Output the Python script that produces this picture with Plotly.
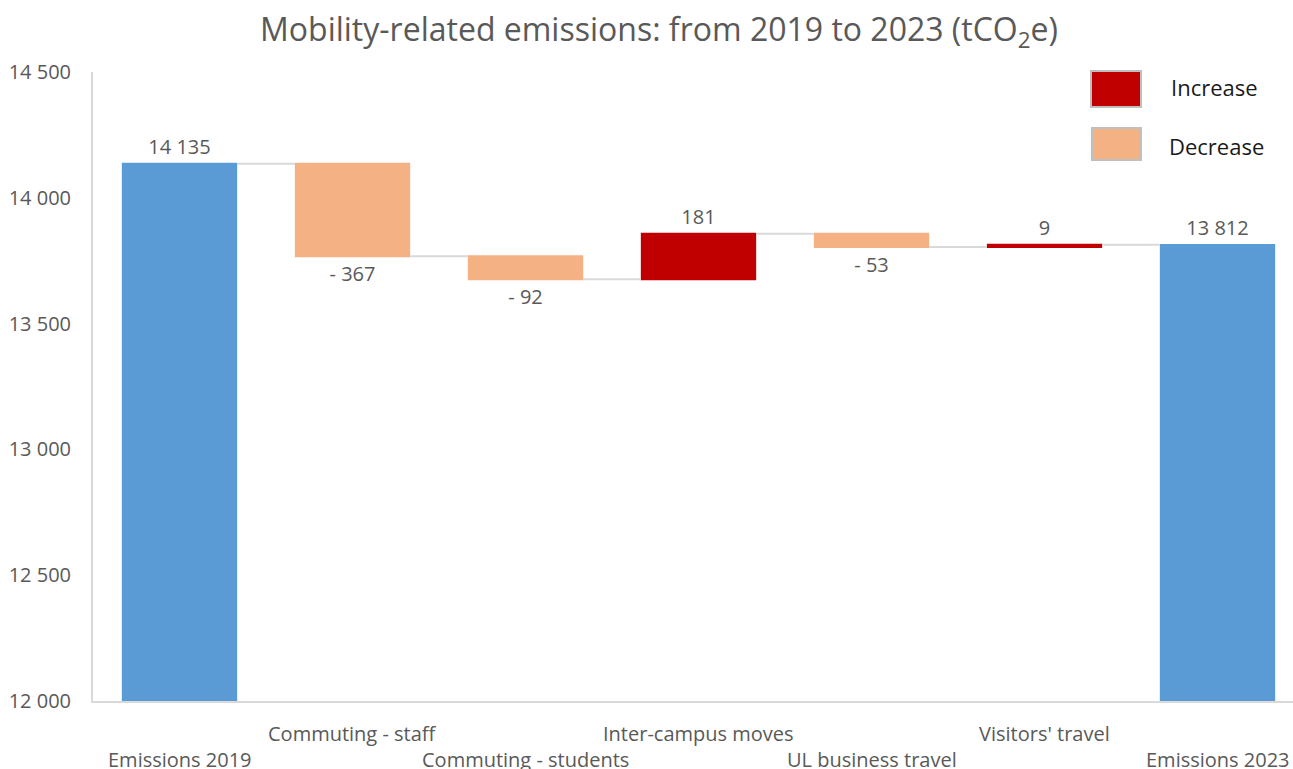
import plotly.graph_objects as go

# Mobility-related emissions, 2019 -> 2023 (tCO2e)
categories = [
    "Emissions 2019",
    "Commuting - staff",
    "Commuting - students",
    "Inter-campus moves",
    "UL business travel",
    "Visitors' travel",
    "Emissions 2023",
]
values = [14135, -367, -92, 181, -53, 9, 13812]
measures = ["absolute", "relative", "relative", "relative", "relative", "relative", "absolute"]
y_ticks = [12000, 12500, 13000, 13500, 14000, 14500]

BLUE = "#5b9bd5"
RED = "#c00000"
PEACH = "#f4b183"
TEXT = "#595959"
LINE = "#d9d9d9"
FONT = "Open Sans"

W, H = 1293, 769
L, R, T, B = 93, 0, 72, 68


def fmt(v, signed):
    s = f"{abs(v):,}".replace(",", " ")
    if signed and v < 0:
        return "- " + s
    return s


labels = [fmt(v, m == "relative") for v, m in zip(values, measures)]

fig = go.Figure(
    go.Waterfall(
        x=categories,
        y=values,
        measure=measures,
        text=labels,
        textposition="outside",
        textfont=dict(family=FONT, size=20, color=TEXT),
        increasing=dict(marker=dict(color=RED)),
        decreasing=dict(marker=dict(color=PEACH)),
        totals=dict(marker=dict(color=BLUE)),
        connector=dict(line=dict(color=LINE, width=2), mode="between"),
        cliponaxis=False,
        showlegend=False,
        hoverinfo="x+y",
    )
)

# Staggered category labels under the axis
for i, c in enumerate(categories):
    fig.add_annotation(
        x=c, xref="x", y=0, yref="paper",
        text=c, showarrow=False,
        yanchor="middle", xanchor="center",
        yshift=-32 if i % 2 == 1 else -58,
        font=dict(family=FONT, size=20, color=TEXT),
    )

plot_w = W - L - R
plot_h = H - T - B


def px(xp):
    return (xp - L) / plot_w


def py(yp):
    return (H - B - yp) / plot_h


# Legend swatches
for (x0, y0, x1, y1, col, name, tx, ty) in [
    (1091, 71, 1141, 107, RED, "Increase", 1169, 87),
    (1092, 128, 1141, 160, PEACH, "Decrease", 1167, 146),
]:
    fig.add_shape(
        type="rect", xref="paper", yref="paper",
        x0=px(x0), x1=px(x1), y0=py(y1), y1=py(y0),
        fillcolor=col, line=dict(color="#bfbfbf", width=2),
    )
    fig.add_annotation(
        x=px(tx), y=py(ty), xref="paper", yref="paper",
        text=name, showarrow=False, xanchor="left", yanchor="middle",
        font=dict(family=FONT, size=22, color="#1a1a1a"),
    )

fig.update_layout(
    width=W, height=H,
    margin=dict(l=L, r=R, t=T, b=B),
    paper_bgcolor="white", plot_bgcolor="white",
    separators=". ",
    title=dict(
        text="Mobility-related emissions: from 2019 to 2023 (tCO<sub>2</sub>e)",
        x=659 / W, xref="container", xanchor="center",
        y=1 - 30 / H, yref="container", yanchor="middle",
        font=dict(family=FONT, size=32, color=TEXT),
    ),
    xaxis=dict(
        range=[-0.5, 6.5 - 11 / 173],
        showticklabels=False, showgrid=False, zeroline=False,
        showline=True, linecolor=LINE, linewidth=2,
    ),
    yaxis=dict(
        range=[12000, 14500],
        tickvals=y_ticks, tickformat=",d",
        showgrid=False, zeroline=False,
        showline=True, linecolor=LINE, linewidth=2,
        ticks="", ticklabelstandoff=16,
        tickfont=dict(family=FONT, size=20, color=TEXT),
    ),
    waterfallgap=1 / 3,
)

fig.write_html("out.html")
